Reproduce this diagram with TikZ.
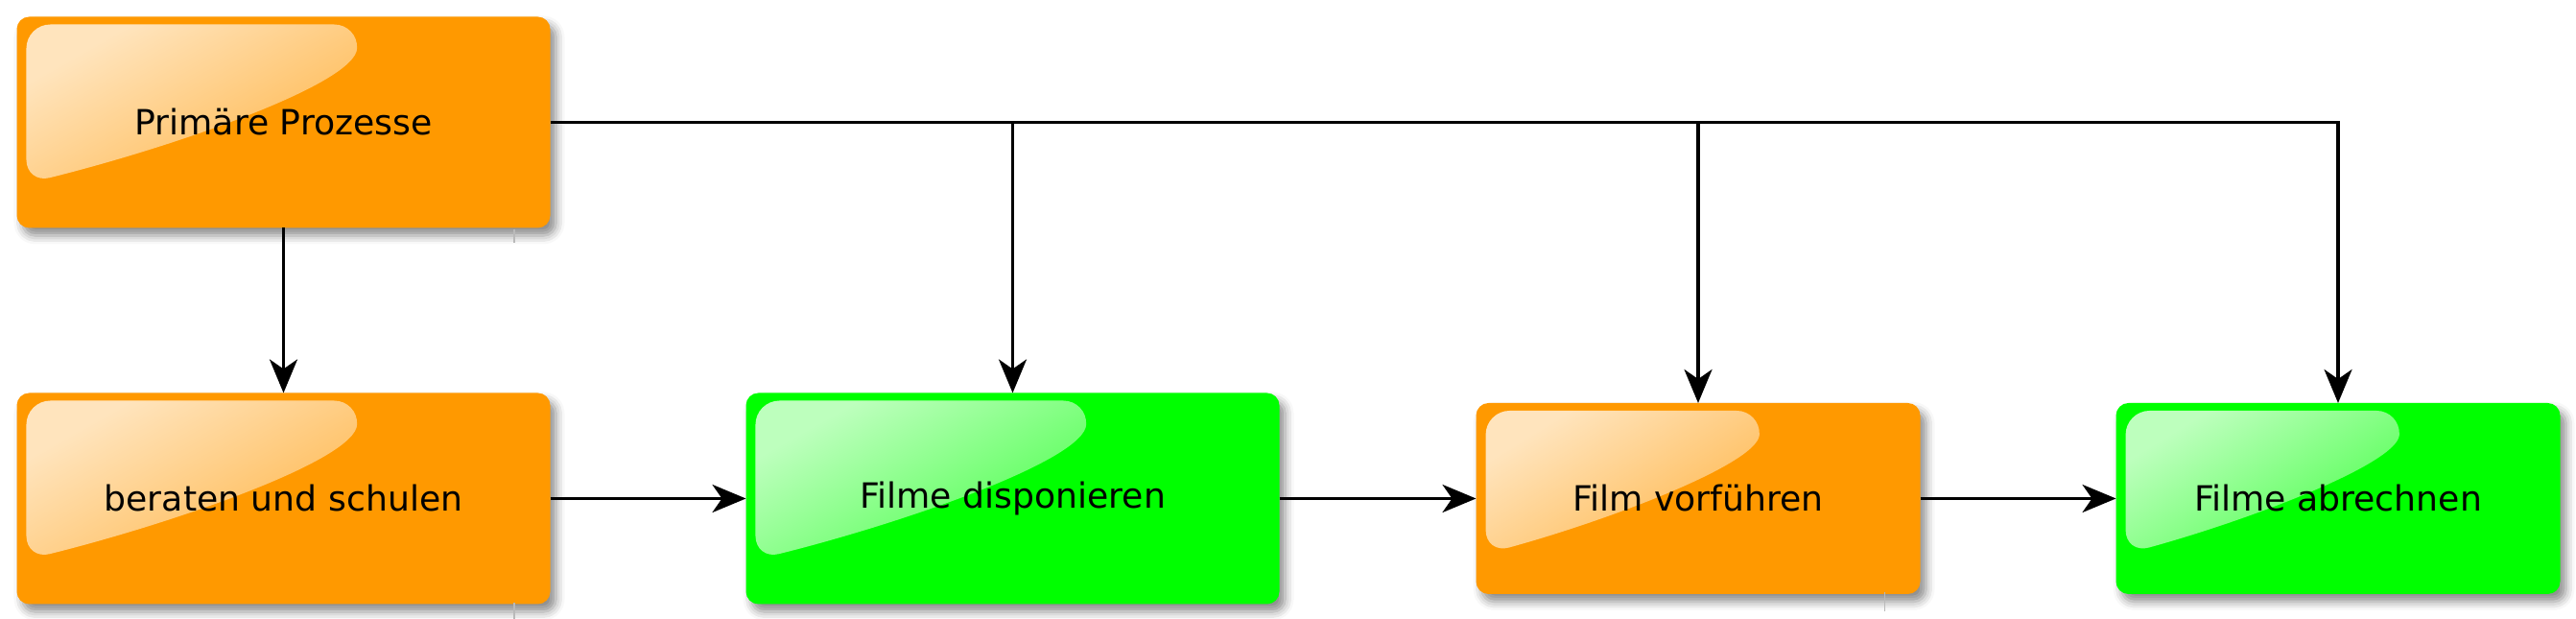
\documentclass[tikz,border=0pt]{standalone}
\usepackage{fontspec}
\setmainfont{DejaVu Sans}
\usetikzlibrary{arrows.meta, positioning, calc, shadows.blur, fadings}

\definecolor{procorange}{RGB}{255,153,0}
\definecolor{procgreen}{RGB}{0,255,0}

\tikzfading[name=glossfade, left color=transparent!26, right color=transparent!93]

% glossy highlight in the upper left part of a box
\newcommand{\glossy}[1]{%
  \fill[white, path fading=glossfade, fading angle=-35]
    let \p1=(#1.north west), \p2=(#1.south east),
        \n1={\x2-\x1}, \n2={\y1-\y2} in
    [rounded corners=0.25cm]
    (\x1+0.1cm, \y1-0.08cm) -- (\x1+0.64*\n1, \y1-0.08cm)
    .. controls (\x1+0.635*\n1, \y1-0.315*\n2) and (\x1+0.304*\n1, \y1-0.61*\n2) ..
    (\x1+0.1cm, \y1-0.79*\n2) -- cycle;}

\tikzset{
  procbox/.style={rectangle, rounded corners=0.13cm, outer sep=0pt,
    minimum width=5.56cm, minimum height=2.2cm,
    font=\fontsize{10.3}{12}\selectfont,
    blur shadow={shadow xshift=0.06cm, shadow yshift=-0.08cm,
      shadow blur radius=0.09cm, shadow opacity=45},
    path picture={\glossy{path picture bounding box}}},
  orangebox/.style={procbox, fill=procorange},
  greenbox/.style={procbox, fill=procgreen},
  smallbox/.style={minimum width=4.63cm, minimum height=1.99cm},
  flow/.style={line width=0.033cm,
    -{Stealth[length=0.35cm, width=0.29cm, inset=0.1cm]}},
  seam/.style={gray!55, line width=0.3pt}
}

\begin{document}
\begin{tikzpicture}

    \useasboundingbox (0,0) rectangle (26.85,6.45);

    % ============================================================
    % PROCESS BOXES
    % ============================================================
    \node[orangebox] (prim) at (2.955,5.175) {Primäre Prozesse};
    \node[orangebox, below=1.72cm of prim] (beraten) {beraten und schulen};
    \node[greenbox, right=2.04cm of beraten] (dispo) {Filme disponieren};
    \node[orangebox, smallbox, right=2.05cm of dispo] (vorf) {Film vorführen};
    \node[greenbox, smallbox, right=2.04cm of vorf] (abrech) {Filme abrechnen};

    % thin seams below some boxes
    \draw[seam] (5.36,4.06) -- (5.36,3.92);
    \draw[seam] (5.36,0.17) -- (5.36,0);
    \draw[seam] (19.64,0.28) -- (19.64,0.08);

    % ============================================================
    % CONNECTORS
    % ============================================================
    \draw[flow] (prim) -- (beraten);
    \draw[flow] (beraten) -- (dispo);
    \draw[flow] (dispo) -- (vorf);
    \draw[flow] (vorf) -- (abrech);

    \draw[flow] (prim.east) -| (abrech.north);
    \draw[flow] (prim.east -| dispo.north) -- (dispo.north);
    \draw[flow] (prim.east -| vorf.north) -- (vorf.north);

\end{tikzpicture}
\end{document}
